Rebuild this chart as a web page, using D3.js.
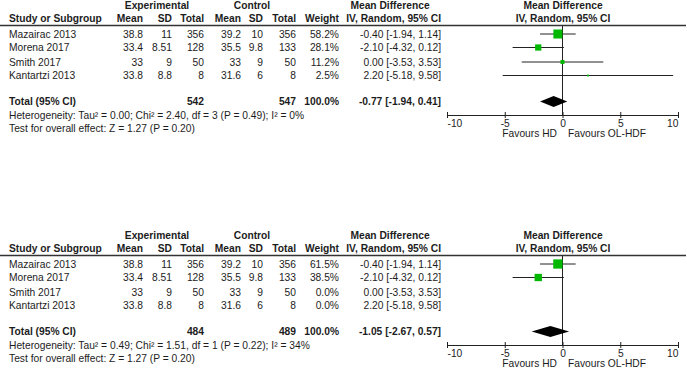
<!DOCTYPE html>
<html>
<head>
<meta charset="utf-8">
<script src="https://cdn.jsdelivr.net/npm/d3@7/dist/d3.min.js"></script>
<style>
  html, body { margin: 0; padding: 0; background: #fff; }
  svg { display: block; }
  text { font-family: "Liberation Sans", Arial, sans-serif; font-size: 10.25px; fill: #1c1c1c; }
  .b { font-weight: bold; }
</style>
</head>
<body>
<svg id="chart" width="687" height="371"></svg>
<script>
// ---------------- data ----------------
const studies   = ["Mazairac 2013", "Morena 2017", "Smith 2017", "Kantartzi 2013"];
const expMean   = [38.8, 33.4, 33, 33.8];
const expSD     = [11, 8.51, 9, 8.8];
const expTotal  = [356, 128, 50, 8];
const ctrlMean  = [39.2, 35.5, 33, 31.6];
const ctrlSD    = [10, 9.8, 9, 6];
const ctrlTotal = [356, 133, 50, 8];
const mdValue   = [-0.40, -2.10, 0.00, 2.20];
const mdLow     = [-1.94, -4.32, -3.53, -5.18];
const mdHigh    = [1.14, 0.12, 3.53, 9.58];

const weightsA  = [58.2, 28.1, 11.2, 2.5];
const weightsB  = [61.5, 38.5, 0.0, 0.0];

const totalsA   = { exp: 542, ctrl: 547, weight: 100.0, md: -0.77, lo: -1.94, hi: 0.41 };
const totalsB   = { exp: 484, ctrl: 489, weight: 100.0, md: -1.05, lo: -2.67, hi: 0.57 };

const heteroA   = "Heterogeneity: Tau\u00B2 = 0.00; Chi\u00B2 = 2.40, df = 3 (P = 0.49); I\u00B2 = 0%";
const heteroB   = "Heterogeneity: Tau\u00B2 = 0.49; Chi\u00B2 = 1.51, df = 1 (P = 0.22); I\u00B2 = 34%";
const overallA  = "Test for overall effect: Z = 1.27 (P = 0.20)";
const overallB  = "Test for overall effect: Z = 1.27 (P = 0.20)";

const axisTicks = [-10, -5, 0, 5, 10];
const favourLeft  = "Favours HD";
const favourRight = "Favours OL-HDF";

// ---------------- formatting ----------------
const loc = d3.formatLocale({ decimal: ".", thousands: ",", grouping: [3], currency: ["", ""], minus: "-" });
const f2 = loc.format(".2f");
const f1 = loc.format(".1f");
const mdText = (m, l, h) => `${f2(m)} [${f2(l)}, ${f2(h)}]`;

// ---------------- layout ----------------
const svg = d3.select("#chart");
const x = d3.scaleLinear().domain([-10, 10]).range([447, 678]);
const sizeScale = d3.scaleSqrt().domain([0, 100]).range([0, 11.8]);
const rowY = d3.scaleOrdinal().domain(studies).range([34, 47.5, 62, 75.5]);

const col = {
  study: 9, expMean: 143, expSD: 172, expTotal: 204,
  ctrlMean: 241, ctrlSD: 263, ctrlTotal: 296, weight: 339, md: 441
};
const base = 3.6; // center -> baseline offset

function panel(offsetY, weights, totals, hetero, overall) {
  const g = svg.append("g").attr("transform", `translate(0,${offsetY})`);
  const t = (xx, yy, str, anchor, cls) =>
    g.append("text").attr("x", xx).attr("y", yy + base)
      .attr("text-anchor", anchor || "start").attr("class", cls || null).text(str);

  // group headers
  t(157, 5, "Experimental", "middle", "b");
  t(252, 5, "Control", "middle", "b");
  t(390, 5, "Mean Difference", "middle", "b");
  t(563, 5, "Mean Difference", "middle", "b");

  // column headers
  t(col.study, 18.5, "Study or Subgroup", "start", "b");
  t(col.expMean, 18.5, "Mean", "end", "b");
  t(col.expSD, 18.5, "SD", "end", "b");
  t(col.expTotal, 18.5, "Total", "end", "b");
  t(col.ctrlMean, 18.5, "Mean", "end", "b");
  t(col.ctrlSD, 18.5, "SD", "end", "b");
  t(col.ctrlTotal, 18.5, "Total", "end", "b");
  t(col.weight, 18.5, "Weight", "end", "b");
  t(col.md, 18.5, "IV, Random, 95% CI", "end", "b");
  t(563, 18.5, "IV, Random, 95% CI", "middle", "b");

  g.append("line").attr("x1", 0).attr("x2", 686).attr("y1", 25.5).attr("y2", 25.5)
    .attr("stroke", "#333").attr("stroke-width", 1.4);

  // study rows
  studies.forEach((s, i) => {
    const y = rowY(s);
    t(col.study, y, s);
    t(col.expMean, y, expMean[i], "end");
    t(col.expSD, y, expSD[i], "end");
    t(col.expTotal, y, expTotal[i], "end");
    t(col.ctrlMean, y, ctrlMean[i], "end");
    t(col.ctrlSD, y, ctrlSD[i], "end");
    t(col.ctrlTotal, y, ctrlTotal[i], "end");
    t(col.weight, y, f1(weights[i]) + "%", "end");
    t(col.md, y, mdText(mdValue[i], mdLow[i], mdHigh[i]), "end");
  });

  // totals
  const ty = 101.5;
  t(col.study, ty, "Total (95% CI)", "start", "b");
  t(col.expTotal, ty, totals.exp, "end", "b");
  t(col.ctrlTotal, ty, totals.ctrl, "end", "b");
  t(col.weight, ty, f1(totals.weight) + "%", "end", "b");
  t(col.md, ty, mdText(totals.md, totals.lo, totals.hi), "end", "b");
  t(col.study, 115, hetero);
  t(col.study, 128, overall);

  // zero line
  g.append("line").attr("x1", x(0)).attr("x2", x(0)).attr("y1", 26).attr("y2", 115)
    .attr("stroke", "#222").attr("stroke-width", 1);

  // CIs and squares
  studies.forEach((s, i) => {
    if (weights[i] <= 0) return;
    const y = rowY(s);
    g.append("line").attr("x1", x(mdLow[i])).attr("x2", x(mdHigh[i]))
      .attr("y1", y).attr("y2", y).attr("stroke", "#222").attr("stroke-width", 1);
    const sz = sizeScale(weights[i]);
    g.append("rect").attr("x", x(mdValue[i]) - sz / 2).attr("y", y - sz / 2)
      .attr("width", sz).attr("height", sz).attr("fill", "#00b800");
  });

  // diamond
  const dh = 5.5;
  g.append("path")
    .attr("d", `M${x(totals.lo)},${ty} L${x(totals.md)},${ty - dh} L${x(totals.hi)},${ty} L${x(totals.md)},${ty + dh} Z`)
    .attr("fill", "#000");

  // axis
  const ax = g.append("g").attr("transform", "translate(0,115)")
    .call(d3.axisBottom(x).tickValues(axisTicks).tickFormat(loc.format("d")).tickSizeOuter(0).tickSizeInner(3));
  ax.select(".domain").attr("stroke", "#222");
  ax.selectAll(".tick line").attr("y1", -3).attr("y2", 3).attr("stroke", "#222");
  ax.selectAll(".tick text").attr("y", 4.5).attr("fill", "#1c1c1c")
    .style("font-family", '"Liberation Sans", Arial, sans-serif').style("font-size", "10.25px");
  ax.selectAll(".tick text").filter((d, i) => i === 0).attr("text-anchor", "start");
  ax.selectAll(".tick text").filter((d, i, n) => i === n.length - 1).attr("text-anchor", "end");

  t(x(0) - 5.5, 133, favourLeft, "end");
  t(x(0) + 5.5, 133, favourRight, "start");
}

panel(0, weightsA, totalsA, heteroA, overallA);
panel(230, weightsB, totalsB, heteroB, overallB);
</script>
</body>
</html>
